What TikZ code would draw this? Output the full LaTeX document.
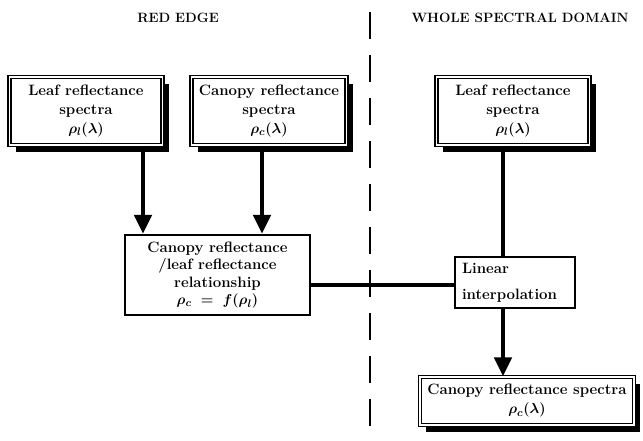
\documentclass[tikz,border=0pt]{standalone}
\usetikzlibrary{arrows.meta,shadows,calc}
\begin{document}
\begin{tikzpicture}[x=1pt,y=-1pt,
  txt/.style={font=\fontsize{15}{19}\selectfont\bfseries\boldmath, align=center, inner sep=0pt},
  dbox/.style={txt, draw=black, fill=white, line width=1.2pt, double=white, double distance=1.8pt,
    drop shadow={shadow xshift=6pt, shadow yshift=-7pt, fill=black, opacity=1}},
  sbox/.style={txt, draw=black, fill=white, line width=2.2pt},
  arr/.style={line width=4.5pt, -{Triangle[length=19pt,width=17pt]}},
  ln/.style={line width=4pt},
  head/.style={font=\fontsize{13.5}{16}\selectfont\bfseries, inner sep=0pt}
]
\useasboundingbox (0,0) rectangle (643,441);
% headings
\node[head] (h1) at (178,18) {RED EDGE};
\node[head] (h2) at (520,18) {WHOLE SPECTRAL DOMAIN};
% divider
\coordinate (d1) at (370,12);
\coordinate (d2) at (370,441);
\draw[line width=1.2pt, dash pattern=on 27pt off 16pt] (d1) -- (d2);
% top boxes
\node[dbox, minimum width=153pt, minimum height=68pt] (A) at (86,111) {Leaf reflectance\\spectra\\$\rho_l(\lambda)$};
\node[dbox, minimum width=155pt, minimum height=68pt] (B) at (269,111) {Canopy reflectance\\spectra\\$\rho_c(\lambda)$};
\node[dbox, minimum width=153pt, minimum height=68pt] (C) at (513,111) {Leaf reflectance\\spectra\\$\rho_l(\lambda)$};
% middle box
\node[sbox, minimum width=185pt, minimum height=80pt, font=\fontsize{15}{17.5}\selectfont\bfseries\boldmath] (M) at (217.5,275) {Canopy reflectance\\/leaf reflectance\\relationship\\$\rho_c\;=\;f(\rho_l)$};
% linear interpolation box
\node[sbox, minimum width=120pt, minimum height=51pt, align=left, text width=106pt, font=\fontsize{15}{26}\selectfont\bfseries] (L) at (515,282.5) {Linear\\interpolation};
% bottom box
\node[dbox, minimum width=214pt, minimum height=48pt] (O) at (527,401) {Canopy reflectance spectra\\$\rho_c(\lambda)$};
% connectors
\coordinate (a1) at (143,0);
\coordinate (b1) at (262,0);
\coordinate (c1) at (503,0);
\draw[arr] (A.south -| a1) -- (M.north -| a1);
\draw[arr] (B.south -| b1) -- (M.north -| b1);
\draw[ln] (C.south -| c1) -- (L.north -| c1);
\draw[arr] (L.south -| c1) -- (O.north -| c1);
\draw[ln] (M.east |- 0,285) -- (L.west |- 0,285);
\end{tikzpicture}
\end{document}
